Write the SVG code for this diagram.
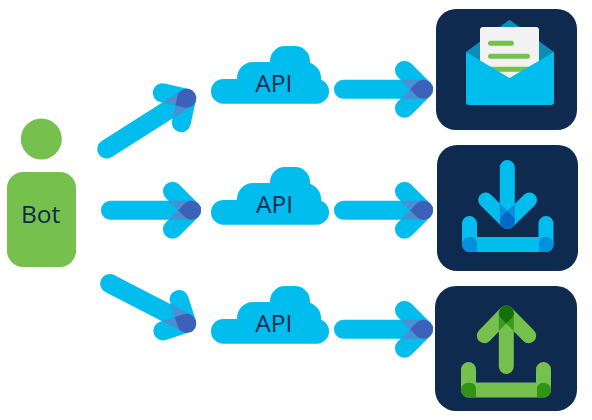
<svg xmlns="http://www.w3.org/2000/svg" width="592" height="420" viewBox="0 0 592 420">
<style>
.c{fill:#00BDEE}.g{fill:#76C04E}.n{fill:#0E2A4F}
.sc{stroke:#00BDEE;stroke-width:19;stroke-linecap:round;stroke-linejoin:round;fill:none}
.t{font-family:"Open Sans","Noto Sans",sans-serif;fill:#0E2A4F;text-anchor:middle;font-size:24.5px}
.ic{stroke:#00BDEE;stroke-width:15;stroke-linecap:round;stroke-linejoin:round;fill:none}
.ig{stroke:#76C04E;stroke-width:15;stroke-linecap:round;stroke-linejoin:round;fill:none}
</style>
<defs>
<g id="ov"><path d="M-22.9-9.5H0V9.5H-22.9L-13.4 0Z" fill="#4A8FD3"/><path d="M-13.4 0L-6.7-6.7A9.5 9.5 0 1 1-6.7 6.7Z" fill="#3D60B8"/></g>
<g id="h19"><path class="sc" d="M-19-19L0 0L-19 19"/><use href="#ov"/></g>
<g id="h17"><path class="sc" d="M-17.7-17.7L0 0L-17.7 17.7"/><use href="#ov"/></g>
<g id="cloud"><rect class="c" x="211" y="79" width="118" height="24.7" rx="12.3"/><rect class="c" x="237" y="62" width="84" height="41" rx="16"/><rect class="c" x="270" y="46" width="40" height="40" rx="15"/></g>
</defs>
<g id="connectors">
<g transform="translate(186.7 98.3) rotate(-32.4)"><path class="sc" d="M-94.7 0H0"/><use href="#h17"/></g>
<g transform="translate(191.5 210.3)"><path class="sc" d="M-81 0H0"/><use href="#h19"/></g>
<g transform="translate(186.7 323.3) rotate(27.3)"><path class="sc" d="M-86.7 0H0"/><use href="#h17"/></g>
<g transform="translate(423.5 89.3)"><path class="sc" d="M-80 0H0"/><use href="#h19"/></g>
<g transform="translate(423.5 210.3)"><path class="sc" d="M-80 0H0"/><use href="#h19"/></g>
<g transform="translate(423.5 329.3)"><path class="sc" d="M-80 0H0"/><use href="#h19"/></g>
</g>
<g id="bot">
<circle class="g" cx="41.3" cy="139" r="20.5"/>
<rect class="g" x="7" y="172" width="69" height="95" rx="16"/>
<text class="t" x="40.7" y="223.3">Bot</text>
</g>
<g id="api1"><use href="#cloud"/><text class="t" x="273.7" y="91.7">API</text></g>
<g id="api2"><use href="#cloud" y="121"/><text class="t" x="274.5" y="212.7">API</text></g>
<g id="api3"><use href="#cloud" y="240"/><text class="t" x="273.7" y="331.7">API</text></g>
<g id="mail">
<rect class="n" x="436" y="9" width="141" height="121" rx="20"/>
<path d="M466 52L509.5 19.7L554 52V80H466Z" fill="#0A8DB8"/>
<rect x="480" y="27" width="59" height="55" rx="3" fill="#F2F2F2"/>
<path d="M490.5 43.3H511.5M490.5 56.3H527.5M490.5 69.3H527.5" stroke="#76C04E" stroke-width="5" stroke-linecap="round" fill="none"/>
<path class="c" d="M466 52L509.5 78L554 52V102Q554 105 551 105H469Q466 105 466 102Z"/>
</g>
<g id="download">
<rect class="n" x="437" y="145" width="141" height="126" rx="20"/>
<path class="ic" d="M507.3 167.5V221.5M485.7 200L507.3 221.5L529.5 200M469.5 223.5V244.5H546V223.5"/>
<g transform="translate(507.3 221.5) rotate(90) scale(.789)"><path d="M-22.9-9.5H0V9.5H-22.9L-13.4 0Z" fill="#0A8FDD"/><path d="M-13.4 0L-6.7-6.7A9.5 9.5 0 1 1-6.7 6.7Z" fill="#0068C8"/></g>
<path d="M462 244.5A7.5 7.5 0 0 1 469.5 237H471A6 6 0 0 1 477 243V252H469.5A7.5 7.5 0 0 1 462 244.5Z" fill="#0090DD"/>
<path d="M553.5 244.5A7.5 7.5 0 0 0 546 237H545A6 6 0 0 0 539 243V252H546A7.5 7.5 0 0 0 553.5 244.5Z" fill="#0090DD"/>
</g>
<g id="upload">
<rect class="n" x="435" y="286" width="142" height="125" rx="21"/>
<path class="ig" d="M506.3 366.5V313M484.3 335.7L506.3 313L528.7 335.7M468.5 369.5V390H543.5V369.5"/>
<g transform="translate(506.3 313) rotate(-90) scale(.789)"><path d="M-22.9-9.5H0V9.5H-22.9L-13.4 0Z" fill="#3A9A1E"/><path d="M-13.4 0L-6.7-6.7A9.5 9.5 0 1 1-6.7 6.7Z" fill="#127008"/></g>
<path d="M461 390A7.3 7.3 0 0 1 468.3 382.7H470A6 6 0 0 1 476 388.7V397H468.3A7.3 7.3 0 0 1 461 390Z" fill="#2F9414"/>
<path d="M551 390A7.3 7.3 0 0 0 543.7 382.7H543A6 6 0 0 0 537 388.7V397H543.7A7.3 7.3 0 0 0 551 390Z" fill="#2F9414"/>
</g>
</svg>
